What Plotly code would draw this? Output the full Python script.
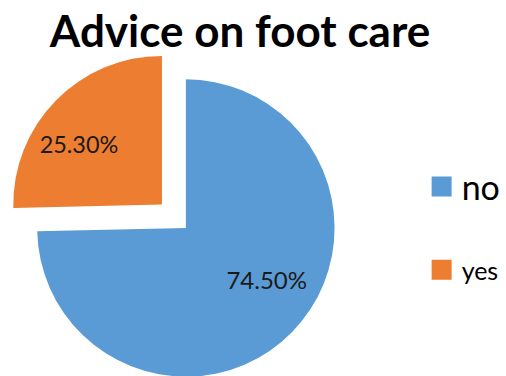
import plotly.graph_objects as go

# Data
categories = ["no", "yes"]
values = [74.5, 25.3]
value_labels = ["74.50%", "25.30%"]
colors = ["#5B9BD5", "#ED7D31"]
pulls = [0, 0.225]
legend_font_sizes = [34, 25]

# label padding (non-breaking spaces) to nudge label placement like the original
NB = "\u00a0"
label_pad = [(9, 0), (0, 7)]  # (leading, trailing)
pie_text = [NB * a + t + NB * b for t, (a, b) in zip(value_labels, label_pad)]

W, H = 506, 420

fig = go.Figure()

fig.add_trace(go.Pie(
    labels=categories,
    values=values,
    text=pie_text,
    textinfo="text",
    texttemplate="%{text}",
    textposition="inside",
    insidetextorientation="horizontal",
    textfont=dict(family="Lato", size=24, color="#1a1a1a"),
    marker=dict(colors=colors, line=dict(width=0)),
    pull=pulls,
    sort=False,
    direction="clockwise",
    rotation=0,
    showlegend=False,
    hoverinfo="label+text",
    domain=dict(x=[3.8 / W, 376.2 / W], y=[1 - 414.2 / H, 1 - 41.8 / H]),
))

# Legend entries (one legend per category so each can carry its own font size)
legend_names = ["legend", "legend2"]
for cat, col, lg in zip(categories, colors, legend_names):
    fig.add_trace(go.Scatter(
        x=[None], y=[None], mode="markers", name=cat,
        marker=dict(symbol="square", size=16, color=col, line=dict(width=4, color=col)),
        legend=lg, hoverinfo="skip",
    ))

fig.update_layout(
    width=W, height=H,
    margin=dict(l=0, r=0, t=0, b=0),
    paper_bgcolor="white", plot_bgcolor="white",
    xaxis=dict(visible=False), yaxis=dict(visible=False),
    title=dict(
        text="<b>Advice on foot care</b>",
        font=dict(family="Lato", size=44, color="black"),
        x=240 / W, xref="container", xanchor="center",
        y=1 - 31.5 / H, yref="container", yanchor="middle",
    ),
    legend=dict(
        x=431 / W, xanchor="left", y=1 - 187 / H, yanchor="middle",
        font=dict(family="Lato", size=legend_font_sizes[0], color="black"),
        bgcolor="rgba(0,0,0,0)",
    ),
    legend2=dict(
        x=431 / W, xanchor="left", y=1 - 270 / H, yanchor="middle",
        font=dict(family="Lato", size=legend_font_sizes[1], color="black"),
        bgcolor="rgba(0,0,0,0)",
    ),
)

fig.write_html(
    "out.html",
    post_script="document.documentElement.style.overflow='hidden';document.body.style.overflow='hidden';",
)
